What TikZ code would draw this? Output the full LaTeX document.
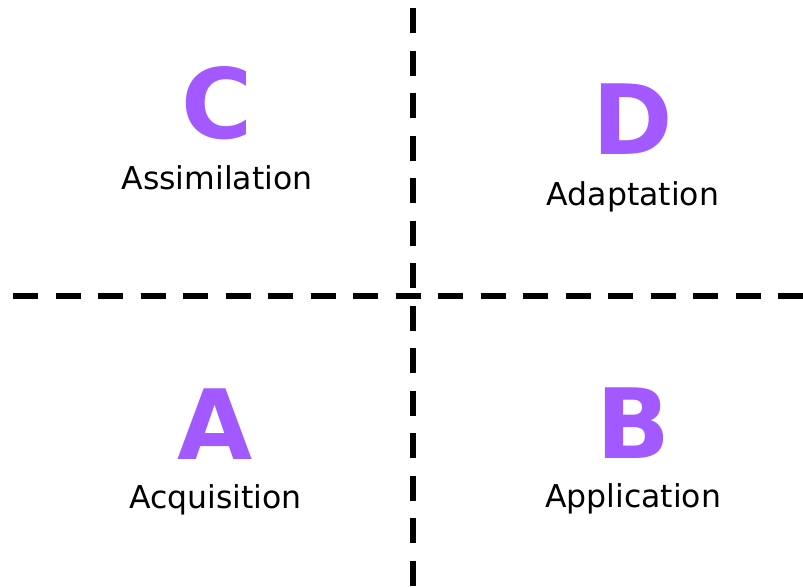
\documentclass[tikz,border=0pt]{standalone}
\usepackage{fontspec}
\setmainfont{DejaVu Sans}
\usepackage{xcolor}
\usetikzlibrary{positioning}
\definecolor{quadpurple}{HTML}{A259FF}

\begin{document}
\begin{tikzpicture}[x=1pt, y=-1pt,
    every node/.style={inner sep=0pt, anchor=base},
    letter/.style={text=quadpurple, font=\fontsize{97}{97}\selectfont\bfseries},
    stage/.style={font=\fontsize{31.5}{31.5}\selectfont},
    divider/.style={line width=6pt, dash pattern=on 25pt off 17.5pt}]
    \useasboundingbox (0,0) rectangle (803,587);

    % dividers
    \coordinate (vtop) at (413,8);
    \coordinate (vbot) at (413,587);
    \coordinate (hleft) at (13,295.5);
    \coordinate (hright) at (803,295.5);
    \draw[divider] (vtop) -- (vbot);
    \draw[divider] (hleft) -- (hright);

    % quadrants
    \node[letter] (letterC) at (217,138) {C};
    \node[letter] (letterD) at (633,154.3) {D};
    \node[letter] (letterA) at (215.5,459) {A};
    \node[letter] (letterB) at (633,458.3) {B};

    \node[stage, below=51pt of letterC.base, anchor=base] (assim) {Assimilation};
    \node[stage, below=51pt of letterD.base, anchor=base] (adapt) {Adaptation};
    \node[stage, below=49.5pt of letterA.base, anchor=base] (acqui) {Acquisition};
    \node[stage, below=49.5pt of letterB.base, anchor=base] (appli) {Application};
\end{tikzpicture}
\end{document}
